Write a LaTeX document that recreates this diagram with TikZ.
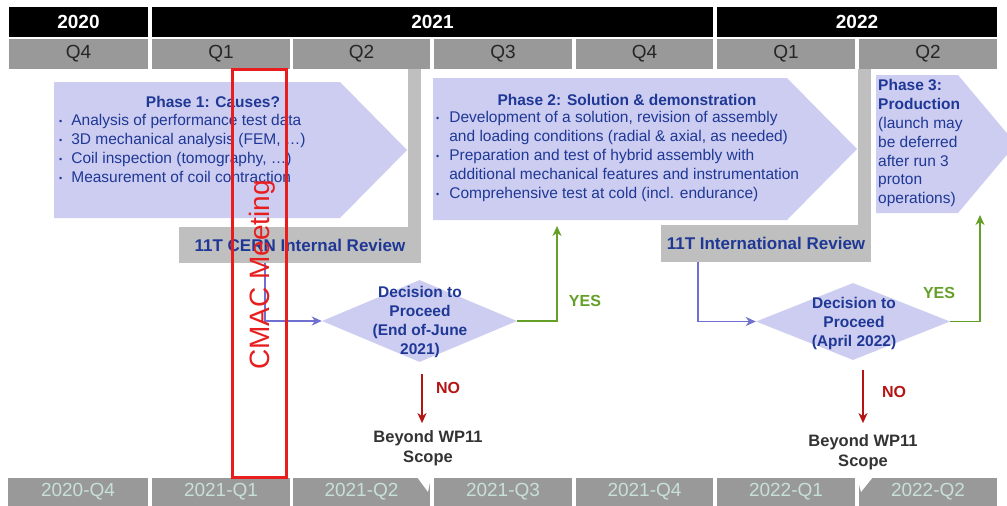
\documentclass[tikz,border=0pt]{standalone}
\usepackage{fontspec}
\setmainfont{Liberation Sans}
\usetikzlibrary{arrows.meta,shapes.geometric,calc}
\definecolor{lav}{RGB}{204,205,240}
\definecolor{dblue}{RGB}{31,56,150}
\definecolor{qgray}{RGB}{153,153,153}
\definecolor{lgray}{RGB}{191,191,191}
\definecolor{btxt}{RGB}{200,224,218}
\definecolor{conn}{RGB}{112,112,210}
\definecolor{ygreen}{RGB}{100,160,40}
\definecolor{nred}{RGB}{180,20,20}
\definecolor{cmac}{RGB}{232,30,30}
\definecolor{dtxt}{RGB}{51,51,51}
\newcommand{\bul}{\raisebox{1.5pt}{\fontsize{9}{9}\selectfont •}}
\begin{document}
\begin{tikzpicture}[x=1pt,y=-1pt,
  yearbox/.style={fill=black,text=white,font=\bfseries\fontsize{19}{22}\selectfont,minimum height=30pt,inner sep=0pt},
  qbox/.style={fill=qgray,text=black!85,font=\fontsize{19}{22}\selectfont,minimum height=30pt,inner sep=0pt},
  bbox/.style={fill=qgray,text=btxt,font=\fontsize{19}{22}\selectfont,minimum height=28pt,inner sep=0pt},
  phasebg/.style={fill=lav},
  ptitle/.style={text=dblue,font=\bfseries\fontsize{15.5}{19}\selectfont,inner sep=0pt},
  plist/.style={text=dblue,font=\fontsize{15.5}{19}\selectfont,inner sep=0pt,align=left},
  revbox/.style={fill=lgray,text=dblue,font=\bfseries\fontsize{17}{20}\selectfont,inner sep=0pt},
  decbox/.style={diamond,fill=lav,inner sep=0pt},
  dectext/.style={text=dblue,font=\bfseries\fontsize{15.5}{19}\selectfont,align=center,inner sep=0pt},
  beyond/.style={text=dtxt,font=\bfseries\fontsize{16.5}{20}\selectfont,align=center,inner sep=0pt},
  yeslab/.style={text=ygreen,font=\bfseries\fontsize{16}{19}\selectfont,inner sep=0pt},
  nolab/.style={text=nred,font=\bfseries\fontsize{16}{19}\selectfont,inner sep=0pt},
  connarr/.style={draw=conn,line width=1.6pt,-{Stealth[length=10pt,width=9pt,inset=3pt]}},
  yesarr/.style={draw=ygreen,line width=1.6pt,-{Stealth[length=10pt,width=9pt,inset=3pt]}},
  noarr/.style={draw=nred,line width=1.6pt,-{Stealth[length=10pt,width=9pt,inset=3pt]}}
]
\useasboundingbox (0,0) rectangle (1007,506);
\fill[white] (0,0) rectangle (1007,506);

% year row
\node[yearbox,minimum width=139pt] (y2020) at (78.5,22) {2020};
\node[yearbox,minimum width=561pt] (y2021) at (432.5,22) {2021};
\node[yearbox,minimum width=280pt] (y2022) at (857,22) {2022};

% quarter row
\node[qbox,minimum width=139pt] (q1) at (78.5,54) {Q4};
\node[qbox,minimum width=138pt] (q2) at (221,54) {Q1};
\node[qbox,minimum width=137pt] (q3) at (361.5,54) {Q2};
\node[qbox,minimum width=138pt] (q4) at (503,54) {Q3};
\node[qbox,minimum width=137pt] (q5) at (644.5,54) {Q4};
\node[qbox,minimum width=138pt] (q6) at (786,54) {Q1};
\node[qbox,minimum width=138pt] (q7) at (928,54) {Q2};

% bottom row
\node[bbox,minimum width=140pt] (b1) at (78,492) {2020-Q4};
\node[bbox,minimum width=138pt] (b2) at (221,492) {2021-Q1};
\node[bbox,minimum width=137pt] (b3) at (361.5,492) {2021-Q2};
\node[bbox,minimum width=138pt] (b4) at (503,492) {2021-Q3};
\node[bbox,minimum width=137pt] (b5) at (644.5,492) {2021-Q4};
\node[bbox,minimum width=138pt] (b6) at (786,492) {2022-Q1};
\node[bbox,minimum width=138pt] (b7) at (928,492) {2022-Q2};
\fill[white] (417,477) -- (431,477) -- (428,492) -- cycle;
\fill[white] (857,477) -- (873,477) -- (861,492) -- cycle;

% phase arrows
\fill[phasebg] (54,82) -- (340,82) -- (407,150) -- (340,218) -- (54,218) -- cycle;
\fill[phasebg] (433,78) -- (787,78) -- (857,149) -- (787,220) -- (433,220) -- cycle;
\fill[phasebg] (876,75) -- (958,75) -- (1016,144) -- (958,213) -- (876,213) -- cycle;

\node[ptitle] (p1t) at (213,102) {Phase 1: Causes?};
\node[plist,anchor=west] (p1l) at (59,150.5) {\begin{tabular}{@{}l@{\hspace{9pt}}l@{}}
\bul & Analysis of performance test data\\
\bul & 3D mechanical analysis (FEM, …)\\
\bul & Coil inspection (tomography, …)\\
\bul & Measurement of coil contraction
\end{tabular}};

\node[ptitle] (p2t) at (627,100) {Phase 2: Solution \& demonstration};
\node[plist,anchor=west] (p2l) at (436,157) {\begin{tabular}{@{}l@{\hspace{10pt}}l@{}}
\bul & Development of a solution, revision of assembly\\
 & and loading conditions (radial \& axial, as needed)\\
\bul & Preparation and test of hybrid assembly with\\
 & additional mechanical features and instrumentation\\
\bul & Comprehensive test at cold (incl. endurance)
\end{tabular}};

\node[plist,anchor=west,font=\fontsize{15.5}{18.8}\selectfont] (p3l) at (878,143.5) {\begin{tabular}{@{}l@{}}
\textbf{Phase 3:}\\
\textbf{Production}\\
(launch may\\
be deferred\\
after run 3\\
proton\\
operations)
\end{tabular}};

% review boxes
\fill[lgray] (408,69) rectangle (421,227.5);
\node[revbox,minimum width=242pt,minimum height=36pt] (rev1) at (300,245) {11T CERN Internal Review};
\fill[lgray] (858,69) rectangle (871,225.5);
\node[revbox,minimum width=210pt,minimum height=37pt] (rev2) at (766,243.5) {11T International Review};

% decisions
\node[decbox,minimum width=195pt,minimum height=82pt] (dec1) at (419.5,321) {};
\node[dectext] (dec1t) at (420,321.5) {Decision to\\Proceed\\(End of-June\\2021)};
\node[decbox,minimum width=194pt,minimum height=77pt] (dec2) at (853,321.5) {};
\node[dectext] (dec2t) at (854,323.5) {Decision to\\Proceed\\(April 2022)};

% outcome texts
\node[beyond] (bey1) at (428,448) {Beyond WP11\\Scope};
\node[beyond] (bey2) at (863,452) {Beyond WP11\\Scope};
\node[yeslab] (yes1) at (585,301) {YES};
\node[nolab] (no1) at (448,388) {NO};
\node[yeslab] (yes2) at (939,293) {YES};
\node[nolab] (no2) at (894,392) {NO};

% connectors
\coordinate (ph2in) at (557,226);
\coordinate (ph3in) at (980,215);
\coordinate (no1a) at (422,374);
\coordinate (no2a) at (863,370);
\draw[connarr] ($(rev1.south west)+(86,0)$) |- (dec1.west);
\draw[yesarr] (dec1.east) -| (ph2in);
\draw[connarr] ($(rev2.south west)+(37,0)$) |- (dec2.west);
\draw[yesarr] (dec2.east) -| (ph3in);
\draw[noarr,shorten >=7pt] (no1a) -- (no1a |- bey1.north);
\draw[noarr,shorten >=11pt] (no2a) -- (no2a |- bey2.north);

% CMAC meeting
\node[draw=cmac,line width=3pt,minimum width=54pt,minimum height=408pt,inner sep=0pt] (cmacbox) at (259.5,273.5) {};
\node[rotate=90,text=cmac,font=\fontsize{28}{30}\selectfont,inner sep=0pt] (cmact) at (262,275) {CMAC Meeting};
\end{tikzpicture}
\end{document}
